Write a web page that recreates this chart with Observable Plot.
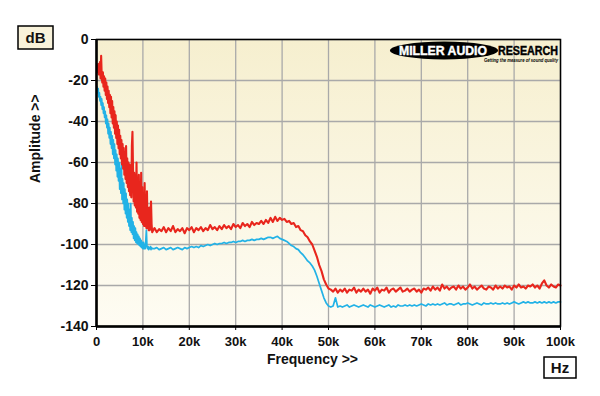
<!DOCTYPE html>
<html>
<head>
<meta charset="utf-8">
<script src="https://cdn.jsdelivr.net/npm/d3@7"></script>
<script src="https://cdn.jsdelivr.net/npm/@observablehq/plot@0.6"></script>
<style>
  html, body { margin: 0; padding: 0; background: #ffffff; }
  #chart { width: 600px; height: 396px; }
</style>
</head>
<body>
<div id="chart"></div>
<script>
// Frequency bins (kHz)
const freqLow = [
  0.125,0.25,0.375,0.5,0.625,0.75,0.875,1,
  1.125,1.25,1.375,1.5,1.625,1.75,1.875,2,
  2.125,2.25,2.375,2.5,2.625,2.75,2.875,3,
  3.125,3.25,3.375,3.5,3.625,3.75,3.875,4,
  4.125,4.25,4.375,4.5,4.625,4.75,4.875,5,
  5.125,5.25,5.375,5.5,5.625,5.75,5.875,6,
  6.125,6.25,6.375,6.5,6.625,6.75,6.875,7,
  7.125,7.25,7.375,7.5,7.625,7.75,7.875,8,
  8.125,8.25,8.375,8.5,8.625,8.75,8.875,9,
  9.125,9.25,9.375,9.5,9.625,9.75,9.875,10,
  10.125,10.25,10.375,10.5,10.625,10.75,10.875,11,
  11.125,11.25,11.375,11.5,11.625,11.75,11.875,12
];
const freqHigh = [
  12.5,13,13.5,14,14.5,15,15.5,16,16.5,17,
  17.5,18,18.5,19,19.5,20,20.5,21,21.5,22,
  22.5,23,23.5,24,24.5,25,25.5,26,26.5,27,
  27.5,28,28.5,29,29.5,30,30.5,31,31.5,32,
  32.5,33,33.5,34,34.5,35,35.5,36,36.5,37,
  37.5,38,38.5,39,39.5,40,40.5,41,41.5,42,
  42.5,43,43.5,44,44.5,45,45.5,46,46.5,47,
  47.5,48,48.5,49,49.5,50,50.5,51,51.5,52,
  52.5,53,53.5,54,54.5,55,55.5,56,56.5,57,
  57.5,58,58.5,59,59.5,60,60.5,61,61.5,62,
  62.5,63,63.5,64,64.5,65,65.5,66,66.5,67,
  67.5,68,68.5,69,69.5,70,70.5,71,71.5,72,
  72.5,73,73.5,74,74.5,75,75.5,76,76.5,77,
  77.5,78,78.5,79,79.5,80,80.5,81,81.5,82,
  82.5,83,83.5,84,84.5,85,85.5,86,86.5,87,
  87.5,88,88.5,89,89.5,90,90.5,91,91.5,92,
  92.5,93,93.5,94,94.5,95,95.5,96,96.5,97,
  97.5,98,98.5,99,99.5,100
];

// Red trace (dB)
const redLow = [
  -13,-16,-12,-17,-14,-11,-19,-8,
  -18,-21,-16,-23,-18,-25,-19,-27,
  -21,-29,-23,-31,-25,-33,-27,-36,
  -28,-38,-30,-41,-33,-43,-35,-46,
  -37,-48,-40,-51,-42,-53,-44,-56,
  -47,-58,-49,-61,-51,-63,-53,-66,
  -55,-68,-52,-70,-58,-72,-60,-74,
  -61,-76,-62,-77,-52,-45,-64,-79,
  -65,-81,-66,-82,-60,-84,-69,-85,
  -66,-87,-71,-88,-65,-89,-72,-90,
  -76,-91,-70,-91,-77,-92,-74,-92,
  -83,-93,-82,-93,-86,-79,-90,-94
];
const redHigh = [
  -92,-94,-92.5,-93.5,-91.5,-94,-92,-93.5,-91,-94,
  -92.5,-93.5,-92,-94.5,-92,-93,-91.5,-94,-92,-93,
  -91.5,-93.5,-92,-93,-90.5,-92.5,-91.5,-93,-91,-92.5,
  -90.5,-92,-91,-92.5,-90,-91.5,-90.5,-92,-89.5,-91,
  -90,-91.5,-89,-90.5,-89.5,-90,-88.5,-90,-88,-89.5,
  -87,-89,-86.5,-88.5,-87,-88,-87.5,-89,-88.5,-90,
  -89.5,-91.5,-91,-93,-93.5,-95.5,-96.5,-98.5,-100,-103,
  -106,-110,-113,-117,-119.5,-121.5,-122,-123,-121.5,-123.5,
  -122,-123,-121.5,-123.5,-122,-122.5,-121,-123.5,-122,-123,
  -121.5,-123,-122,-124,-121.5,-122.5,-121,-123.5,-122,-122.5,
  -121,-123.5,-122,-121.5,-123,-122,-121,-123,-122.5,-121.5,
  -123,-122,-121.5,-123,-122,-123.5,-121.5,-122,-121,-122.5,
  -120.5,-122,-121,-122.5,-119.5,-121.5,-120.5,-122,-121,-120.5,
  -122,-120,-121.5,-120.5,-122,-121,-119.5,-121.5,-120.5,-122,
  -121,-120,-121.5,-122,-120.5,-121,-122,-120,-121.5,-120.5,
  -121.5,-120,-121,-120.5,-122,-120,-121,-119.5,-121,-120.5,
  -121.5,-120,-120.5,-119.5,-121,-120,-121.5,-119,-117.5,-120,
  -121,-119.5,-120.5,-121,-119.5,-120
];

// Blue trace (dB)
const blueLow = [
  -23,-26,-24,-28,-26,-30,-28,-32,
  -29,-34,-31,-36,-33,-38,-35,-41,
  -37,-43,-39,-46,-41,-48,-43,-51,
  -45,-53,-47,-56,-49,-58,-51,-61,
  -54,-64,-56,-67,-58,-69,-60,-73,
  -63,-75,-60,-78,-68,-80,-70,-83,
  -73,-85,-75,-87,-78,-89,-80,-91,
  -83,-93,-80,-94,-87,-95,-89,-97,
  -91,-98,-92,-99,-94,-99.5,-95,-100,
  -96,-100.5,-97,-101,-98,-101.5,-99,-102,
  -99,-102,-100,-102,-98,-93,-101,-102,
  -101,-102.5,-101.5,-102,-101,-102.5,-101.5,-102
];
const blueHigh = [
  -102,-101.5,-102.5,-102,-101.5,-102.5,-102,-101.5,-102.5,-102,
  -101.5,-102,-102.5,-101.5,-102,-101.5,-101,-101.5,-101,-101.5,
  -100.5,-101,-100.5,-100,-100.5,-100,-99.5,-100,-99.5,-99.5,
  -99,-99.5,-99,-99,-98.5,-99,-98.5,-98.5,-98,-98.5,
  -98,-98,-97.5,-98,-97.5,-97.5,-97,-97.5,-97,-96.5,
  -96.5,-97,-96.5,-96,-97,-97.5,-98,-98.5,-99.5,-100.5,
  -101,-102,-102.5,-104,-105,-106.5,-108,-109,-110.5,-112.5,
  -115.5,-119,-122.5,-126,-128.5,-130,-130.5,-130,-126,-130.5,
  -130,-130.5,-130,-129.5,-130.5,-130,-129.5,-130,-130.5,-130,
  -129.5,-130,-130.5,-129.5,-130,-130.5,-130,-129.5,-130,-130.5,
  -130,-129.5,-130.5,-130,-130.5,-129.5,-130,-130,-129.5,-130,
  -129.5,-130,-129.5,-130,-129.5,-129,-129.5,-130,-129,-129.5,
  -129,-129.5,-129,-129.5,-129,-128.5,-129.5,-129,-129,-129.5,
  -129,-128.5,-129.5,-129,-129,-128.5,-129,-129.5,-129,-128.5,
  -129,-129.5,-128.5,-129,-129,-128.5,-129,-128.5,-129,-129,
  -128.5,-129,-128.5,-129,-128.5,-128,-128.5,-129,-128.5,-128,
  -128.5,-128,-128.5,-128.5,-128,-128.5,-128,-128.5,-128,-128.5,
  -128,-128.5,-128,-128.5,-128,-128
];

// Tick labels
const xTicks = [0,10,20,30,40,50,60,70,80,90,100];
const yTicks = [0,-20,-40,-60,-80,-100,-120,-140];

const freqs = freqLow.concat(freqHigh);
const redVals = redLow.concat(redHigh);
const blueVals = blueLow.concat(blueHigh);
const redData = freqs.map((f, i) => ({f, db: redVals[i]}));
const blueData = freqs.map((f, i) => ({f, db: blueVals[i]}));

const FONT = "'Liberation Sans', Arial, Helvetica, sans-serif";

const defsMark = () => {
  const defs = d3.create("svg:defs");
  const lg = defs.append("linearGradient").attr("id", "bgGrad")
    .attr("x1", 0).attr("y1", 0).attr("x2", 0).attr("y2", 1);
  lg.append("stop").attr("offset", "0%").attr("stop-color", "#f6efcf");
  lg.append("stop").attr("offset", "100%").attr("stop-color", "#fefcf3");
  return defs.node();
};

const decoMark = () => {
  const g = d3.create("svg:g").attr("font-family", FONT).attr("text-anchor", "start");
  // dB box
  g.append("rect").attr("x", 18).attr("y", 26).attr("width", 35).attr("height", 23)
    .attr("fill", "#f8f2da").attr("stroke", "#000").attr("stroke-width", 1.5);
  g.append("text").attr("x", 35.5).attr("y", 42.5).attr("text-anchor", "middle")
    .attr("font-size", 15).attr("font-weight", "bold").attr("fill", "#111").text("dB");
  // Hz box
  g.append("rect").attr("x", 544).attr("y", 357).attr("width", 32).attr("height", 21)
    .attr("fill", "#fff").attr("stroke", "#000").attr("stroke-width", 1.5);
  g.append("text").attr("x", 560).attr("y", 372.5).attr("text-anchor", "middle")
    .attr("font-size", 15).attr("font-weight", "bold").attr("fill", "#111").text("Hz");
  // Logo
  g.append("ellipse").attr("cx", 444).attr("cy", 50.5).attr("rx", 54).attr("ry", 9).attr("fill", "#000");
  g.append("text").attr("x", 399).attr("y", 55).attr("fill", "#fff").attr("text-anchor", "start")
    .attr("stroke", "#fff").attr("stroke-width", 0.4)
    .attr("font-size", 12).attr("font-weight", "bold")
    .attr("textLength", 88).attr("lengthAdjust", "spacingAndGlyphs").text("MILLER AUDIO");
  g.append("text").attr("x", 498).attr("y", 55).attr("fill", "#000").attr("text-anchor", "start")
    .attr("stroke", "#000").attr("stroke-width", 0.4)
    .attr("font-size", 12).attr("font-weight", "bold")
    .attr("textLength", 60).attr("lengthAdjust", "spacingAndGlyphs").text("RESEARCH");
  g.append("text").attr("x", 484).attr("y", 61.5).attr("fill", "#000").attr("text-anchor", "start")
    .attr("font-size", 5).attr("font-weight", "bold").attr("font-style", "italic")
    .attr("textLength", 74).attr("lengthAdjust", "spacingAndGlyphs").text("Getting the measure of sound quality");
  return g.node();
};

const chart = Plot.plot({
  width: 600,
  height: 396,
  marginLeft: 96,
  marginRight: 40,
  marginTop: 39,
  marginBottom: 70,
  style: {fontFamily: FONT, background: "#ffffff", color: "#111"},
  x: {domain: [0, 100]},
  y: {domain: [-140, 0]},
  marks: [
    defsMark,
    Plot.frame({fill: "url(#bgGrad)"}),
    Plot.gridX(xTicks, {stroke: "#a9a9a9", strokeOpacity: 1, strokeWidth: 1.3}),
    Plot.gridY(yTicks, {stroke: "#a9a9a9", strokeOpacity: 1, strokeWidth: 1.3}),
    Plot.line(blueData, {x: "f", y: "db", stroke: "#22b2e6", strokeWidth: 1.7}),
    Plot.line(redData, {x: "f", y: "db", stroke: "#e8261d", strokeWidth: 2.1}),
    Plot.frame({stroke: "#000", strokeWidth: 1.5}),
    Plot.ruleX([0], {stroke: "#000", strokeWidth: 2.5}),
    Plot.ruleY([-140], {stroke: "#000", strokeWidth: 2.5}),
    Plot.axisX(xTicks, {
      tickSize: 4, tickPadding: 6, fontSize: 13, fontWeight: "bold",
      tickFormat: d => d === 0 ? "0" : d + "k", label: null, stroke: "#000"
    }),
    Plot.axisY(yTicks, {
      tickSize: 5, tickPadding: 3, fontSize: 14, fontWeight: "bold",
      tickFormat: d => String(d), label: null, stroke: "#000"
    }),
    Plot.text(["Frequency >>"], {frameAnchor: "bottom", dx: -16, dy: 37, fontSize: 14, fontWeight: "bold", fill: "#111"}),
    Plot.text(["Amplitude >>"], {frameAnchor: "left", dx: -61, rotate: -90, fontSize: 14, fontWeight: "bold", fill: "#111"}),
    decoMark
  ]
});
document.getElementById("chart").appendChild(chart);
</script>
</body>
</html>
